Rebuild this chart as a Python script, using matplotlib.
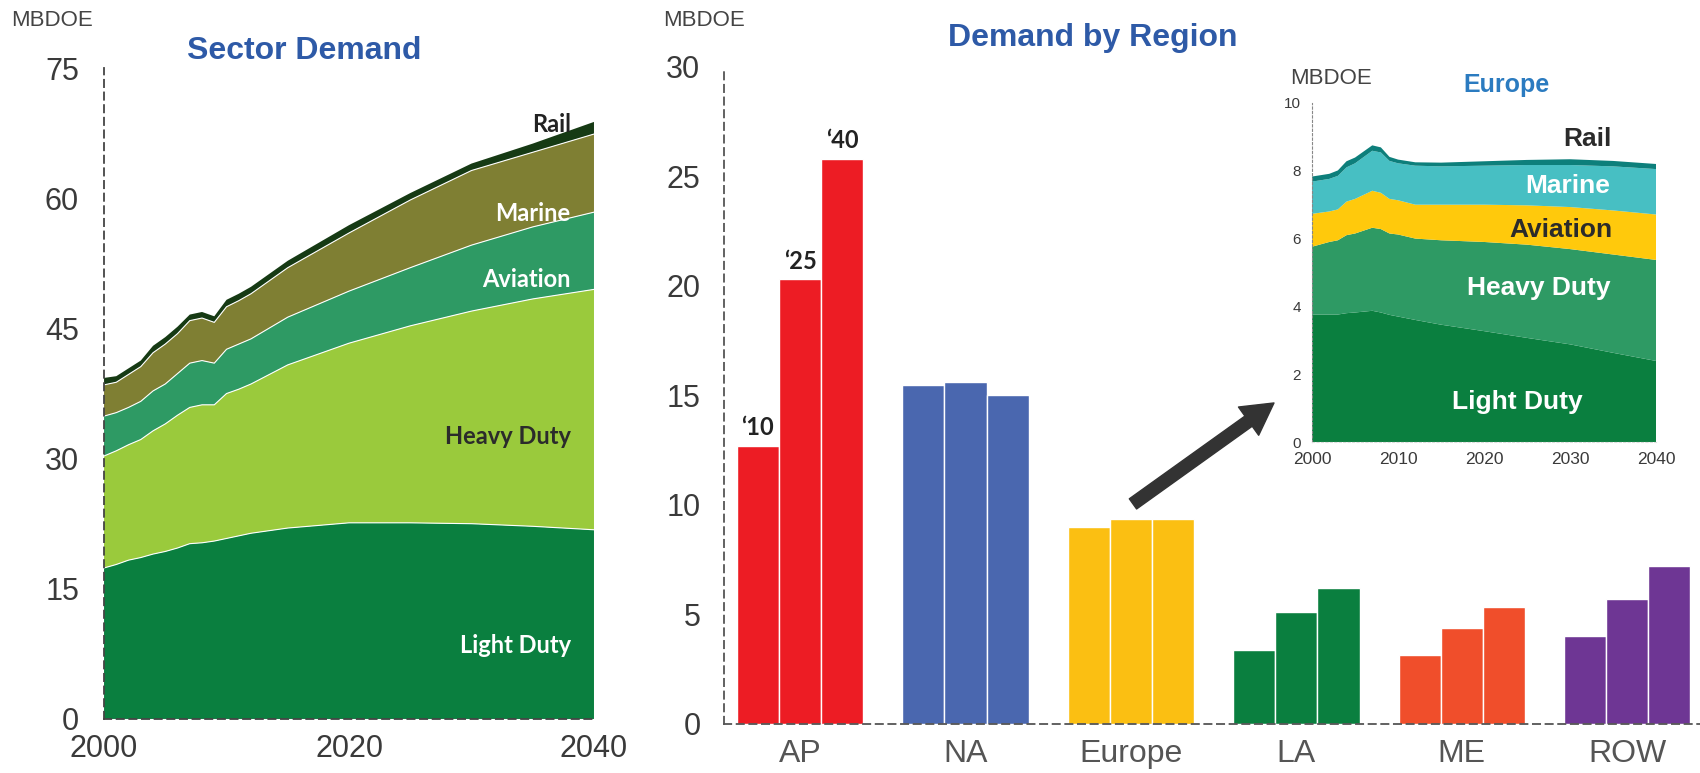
import numpy as np
import matplotlib
matplotlib.use("Agg")
import matplotlib.pyplot as plt

plt.rcParams['font.family'] = ['Liberation Sans', 'DejaVu Sans']

# world transportation demand by sector, MBDOE
years = [2000, 2001, 2002, 2003, 2004, 2005, 2006, 2007, 2008, 2009,
         2010, 2011, 2012, 2015, 2020, 2025, 2030, 2035, 2040]
light_duty = [17.4, 17.8, 18.3, 18.6, 19.0, 19.3, 19.7, 20.2, 20.3, 20.5,
              20.8, 21.1, 21.4, 22.0, 22.6, 22.6, 22.5, 22.2, 21.8]
heavy_duty = [12.9, 13.1, 13.3, 13.6, 14.2, 14.7, 15.3, 15.7, 15.9, 15.7,
              16.7, 16.9, 17.2, 18.8, 20.7, 22.7, 24.5, 26.2, 27.7]
aviation = [4.6, 4.4, 4.3, 4.4, 4.6, 4.6, 4.8, 5.1, 5.1, 4.8,
            5.1, 5.2, 5.2, 5.5, 6.0, 6.7, 7.6, 8.3, 8.9]
marine = [3.6, 3.5, 3.8, 4.0, 4.4, 4.6, 4.6, 4.9, 4.9, 4.7,
          4.9, 5.0, 5.2, 5.7, 6.7, 7.8, 8.6, 8.6, 9.0]
rail = [0.8, 0.7, 0.7, 0.7, 0.8, 0.8, 0.8, 0.7, 0.7, 0.7,
        0.8, 0.8, 0.8, 0.8, 0.9, 0.8, 0.8, 1.0, 1.4]

# demand by region for 2010 / 2025 / 2040
regions = ['AP', 'NA', 'Europe', 'LA', 'ME', 'ROW']
bar_years = ['\u201810', '\u201825', '\u201840']
demand_2010 = [12.7, 15.5, 9.0, 3.4, 3.15, 4.0]
demand_2025 = [20.3, 15.6, 9.35, 5.1, 4.4, 5.7]
demand_2040 = [25.8, 15.0, 9.35, 6.2, 5.35, 7.2]

# Europe sector breakdown
eu_years = [2000, 2002, 2003, 2004, 2005, 2007, 2008, 2009, 2010, 2012,
            2015, 2020, 2025, 2030, 2035, 2040]
eu_light = [3.76, 3.76, 3.76, 3.80, 3.82, 3.87, 3.82, 3.75, 3.70, 3.60,
            3.46, 3.27, 3.07, 2.88, 2.63, 2.39]
eu_heavy = [2.00, 2.14, 2.19, 2.30, 2.33, 2.45, 2.46, 2.40, 2.42, 2.40,
            2.49, 2.63, 2.75, 2.81, 2.90, 2.98]
eu_aviation = [0.97, 0.90, 0.91, 0.99, 1.02, 1.09, 1.07, 1.02, 1.01, 1.00,
               1.05, 1.10, 1.16, 1.24, 1.30, 1.34]
eu_marine = [0.95, 0.96, 0.99, 1.01, 1.05, 1.18, 1.19, 1.12, 1.09, 1.15,
             1.13, 1.15, 1.19, 1.24, 1.30, 1.34]
eu_rail = [0.15, 0.15, 0.16, 0.18, 0.17, 0.16, 0.15, 0.12, 0.11, 0.10,
           0.11, 0.13, 0.15, 0.17, 0.16, 0.15]

sector_colors = ['#0a7f3f', '#9aca3c', '#2e9a64', '#7f7f33', '#163a14']
region_colors = ['#ed1c24', '#4a67af', '#fbbf12', '#0a7f3f', '#f04e2b', '#6e3694']
eu_colors = ['#0a7f3f', '#2e9a64', '#ffc90c', '#47bfc3', '#0d7f7b']
title_blue = '#2e5aa7'
tick_grey = '#3a3a3a'

fig = plt.figure(figsize=(17, 7.73), dpi=100)


def dashed_axes(ax, col):
    for s in ['top', 'right']:
        ax.spines[s].set_visible(False)
    for s in ['left', 'bottom']:
        ax.spines[s].set_linestyle((0, (4, 3)))
        ax.spines[s].set_color(col)
        ax.spines[s].set_linewidth(1.3)
        ax.spines[s].set_zorder(5)


# ---- sector demand (stacked area) ----
ax1 = fig.add_axes([0.0612, 0.0699, 0.2882, 0.842])
layers = [light_duty, heavy_duty, aviation, marine, rail]
ax1.stackplot(years, *layers, colors=sector_colors, lw=0)
tops = np.cumsum(np.array(layers), axis=0)
for t in tops[:-1]:
    ax1.plot(years, t, color='white', lw=0.8)
ax1.set_xlim(2000, 2040)
ax1.set_ylim(0, 75)
ax1.set_xticks([2000, 2020, 2040])
ax1.set_yticks(np.arange(0, 76, 15))
ax1.tick_params(axis='y', length=0, pad=18, labelsize=22, labelcolor=tick_grey)
ax1.tick_params(axis='x', length=0, pad=11, labelsize=22, labelcolor=tick_grey)
dashed_axes(ax1, '#444444')

lab_font = ['Lato', 'DejaVu Sans']
lx = 2038.1
ax1.text(lx, 68.5, 'Rail', ha='right', va='center', fontsize=17,
         fontweight='bold', color='#222222', family=lab_font)
ax1.text(lx, 58.3, 'Marine', ha='right', va='center', fontsize=17,
         fontweight='bold', color='white', family=lab_font)
ax1.text(lx, 50.6, 'Aviation', ha='right', va='center', fontsize=17,
         fontweight='bold', color='white', family=lab_font)
ax1.text(lx, 32.5, 'Heavy Duty', ha='right', va='center', fontsize=17,
         fontweight='bold', color='#2b2b2b', family=lab_font)
ax1.text(lx, 8.5, 'Light Duty', ha='right', va='center', fontsize=17,
         fontweight='bold', color='white', family=lab_font)

fig.text(0.0065, 0.974, 'MBDOE', fontsize=16, color='#444444', va='center')
fig.text(0.179, 0.934, 'Sector Demand', fontsize=23, fontweight='bold',
         color=title_blue, ha='center', va='center')

# ---- demand by region (grouped bars) ----
ax2 = fig.add_axes([0.4259, 0.0634, 0.5741, 0.85])
x = np.arange(len(regions))
bw = 0.255
for i, vals in enumerate([demand_2010, demand_2025, demand_2040]):
    ax2.bar(x + (i - 1) * bw, vals, width=bw, color=region_colors,
            edgecolor='white', linewidth=1.0, zorder=2)
    ax2.text(x[0] + (i - 1) * bw, vals[0] + 0.3, bar_years[i], ha='center',
             va='bottom', fontsize=17, fontweight='bold', color='#222222',
             family=lab_font)
ax2.set_xlim(-0.46, 5.44)
ax2.set_ylim(0, 30)
ax2.set_xticks(x)
ax2.set_xticklabels(regions)
ax2.set_yticks(np.arange(0, 31, 5))
ax2.tick_params(axis='y', length=0, pad=17, labelsize=22, labelcolor=tick_grey)
ax2.tick_params(axis='x', length=0, pad=11, labelsize=23, labelcolor='#555555')
dashed_axes(ax2, '#555555')

ax2.annotate('', xy=(0.5635, 0.4886), xytext=(0.419, 0.335),
             xycoords='axes fraction', textcoords='axes fraction',
             arrowprops=dict(arrowstyle='simple,tail_width=0.36,head_width=1.0,head_length=0.9',
                             mutation_scale=25, color='#333333',
                             shrinkA=0, shrinkB=0))

fig.text(0.390, 0.974, 'MBDOE', fontsize=16, color='#444444', va='center')
fig.text(0.643, 0.951, 'Demand by Region', fontsize=23, fontweight='bold',
         color=title_blue, ha='center', va='center')

# ---- Europe inset ----
ax3 = fig.add_axes([0.7718, 0.4282, 0.2024, 0.4386])
ax3.set_facecolor('none')
eu_layers = [eu_light, eu_heavy, eu_aviation, eu_marine, eu_rail]
ax3.stackplot(eu_years, *eu_layers, colors=eu_colors, lw=0)
ax3.set_xlim(2000, 2040)
ax3.set_ylim(0, 10)
ax3.set_xticks(np.arange(2000, 2041, 10))
ax3.set_yticks(np.arange(0, 11, 2))
ax3.tick_params(axis='y', length=0, pad=8, labelsize=11, labelcolor=tick_grey)
ax3.tick_params(axis='x', length=0, pad=7, labelsize=12.5, labelcolor=tick_grey)
for s in ['top', 'right']:
    ax3.spines[s].set_visible(False)
ax3.spines['left'].set_linestyle((0, (2, 2)))
ax3.spines['left'].set_color('#888888')
ax3.spines['bottom'].set_linestyle((0, (2, 2)))
ax3.spines['bottom'].set_color('#dddddd')
for sp in ['left', 'bottom']:
    ax3.spines[sp].set_zorder(5)

ax3.text(2032, 8.93, 'Rail', ha='center', va='center', fontsize=19,
         fontweight='bold', color='#2b2b2b')
ax3.text(2029.7, 7.56, 'Marine', ha='center', va='center', fontsize=19,
         fontweight='bold', color='white')
ax3.text(2028.9, 6.24, 'Aviation', ha='center', va='center', fontsize=19,
         fontweight='bold', color='#2b2b2b')
ax3.text(2026.3, 4.54, 'Heavy Duty', ha='center', va='center', fontsize=19,
         fontweight='bold', color='white')
ax3.text(2023.9, 1.17, 'Light Duty', ha='center', va='center', fontsize=19,
         fontweight='bold', color='white')

fig.text(0.7588, 0.899, 'MBDOE', fontsize=16, color='#444444', va='center')
fig.text(0.886, 0.890, 'Europe', fontsize=18, fontweight='bold',
         color='#2b7bc0', ha='center', va='center')

fig.savefig('out.png', dpi=100)
